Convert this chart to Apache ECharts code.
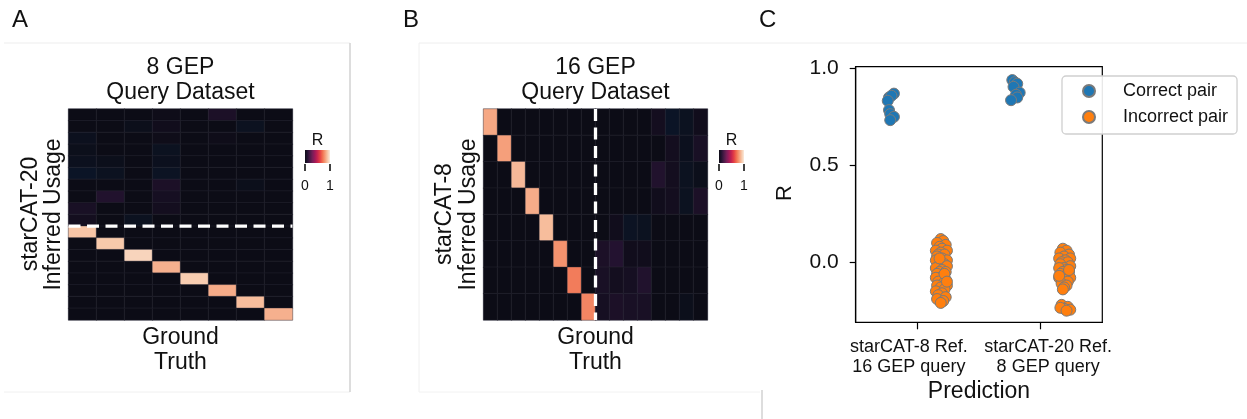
<!DOCTYPE html>
<html lang="en">
<head>
<meta charset="UTF-8">
<title>starCAT query datasets</title>
<script src="https://cdn.jsdelivr.net/npm/echarts@6/dist/echarts.min.js"></script>
<style>
  html, body { margin: 0; padding: 0; background: #fff; }
  #main { width: 1247px; height: 419px; }
</style>
</head>
<body>
<div id="main"></div>
<script>
// ---- panel A: starCAT-20 inferred usage (rows) vs 8 ground truth GEPs (cols)
var gtA = ['G1', 'G2', 'G3', 'G4', 'G5', 'G6', 'G7', 'G8'];
var refA = ['R1', 'R2', 'R3', 'R4', 'R5', 'R6', 'R7', 'R8', 'R9', 'R10',
            'R11', 'R12', 'R13', 'R14', 'R15', 'R16', 'R17', 'R18'];
var heatA = [
    [0, 0, 0, 0.01, 0, 0.06, 0, 0],
    [0, 0, -0.02, 0.02, 0, 0, -0.04, 0],
    [-0.03, 0, 0, 0.01, 0, 0.01, 0, 0],
    [-0.02, 0, 0, -0.04, 0, 0, 0, 0],
    [-0.03, -0.02, 0, -0.03, 0, 0, 0, 0],
    [-0.06, -0.04, 0, -0.05, 0, 0, 0, 0],
    [0, 0, 0, 0.06, 0, 0, -0.02, 0],
    [0, 0.08, 0, 0.04, 0, 0, 0, 0],
    [0.05, 0, 0, 0.03, 0, 0, 0, 0],
    [0.03, 0, -0.04, 0, 0, 0, 0, 0],
    [0.90, 0, 0, 0, 0, 0, 0, 0],
    [0, 0.91, 0, 0, 0, 0, 0, 0],
    [0, 0, 0.94, 0, 0, 0, 0, 0],
    [0, 0, 0, 0.85, 0, 0, 0, 0],
    [0, 0, 0, 0, 0.92, 0, 0, 0],
    [0, 0, 0, 0, 0, 0.84, 0, 0],
    [0, 0, 0, 0, 0, 0, 0.88, 0],
    [0, 0, 0, 0, 0, 0, 0, 0.85]
];
var splitA = 10;   // rows above the dashed line

// ---- panel B: starCAT-8 inferred usage (rows) vs 16 ground truth GEPs (cols)
var gtB = ['G1', 'G2', 'G3', 'G4', 'G5', 'G6', 'G7', 'G8',
           'G9', 'G10', 'G11', 'G12', 'G13', 'G14', 'G15', 'G16'];
var refB = ['R1', 'R2', 'R3', 'R4', 'R5', 'R6', 'R7', 'R8'];
var heatB = [
    [0.83, 0, 0, 0, 0, 0, 0, 0, 0, 0, 0, 0, 0.03, -0.06, -0.04, 0.02],
    [0, 0.81, 0, 0, 0, 0, 0, 0, 0, 0, 0, 0, 0, 0.03, -0.03, 0.05],
    [0, 0, 0.87, 0, 0, 0, 0, 0, 0, 0, 0, 0, 0.08, 0.03, -0.04, -0.02],
    [0, 0, 0, 0.84, 0, 0, 0, 0, 0, 0, 0, 0, 0.02, 0.03, -0.04, 0.06],
    [0, 0, 0, 0, 0.88, 0, 0, 0, 0, 0.02, -0.05, -0.04, 0, 0, 0, 0],
    [0, 0, 0, 0, 0, 0.78, 0, 0, 0.06, 0.09, 0.02, 0.02, 0, 0, 0, 0],
    [0, 0, 0, 0, 0, 0, 0.73, 0, 0.05, 0.03, 0.04, 0.08, 0, 0, 0, 0],
    [0, 0, 0, 0, 0, 0, 0, 0.75, 0.04, 0.06, 0.05, 0.05, 0, 0, -0.02, 0]
];
var splitB = 8;    // columns left of the dashed line

// ---- panel C: R of correct / incorrect pairs (x = jitter offset from category)
var catC = [['starCAT-8 Ref.', '16 GEP query'], ['starCAT-20 Ref.', '8 GEP query']];
var correct8X = [-0.19, -0.23, -0.21, -0.24, -0.23, -0.22, -0.19, -0.22];
var correct8R = [0.871, 0.851, 0.86, 0.834, 0.786, 0.765, 0.751, 0.734];
var correct20X = [-0.23, -0.21, -0.19, -0.22, -0.17, -0.20, -0.19, -0.24];
var correct20R = [0.941, 0.93, 0.922, 0.906, 0.876, 0.865, 0.851, 0.837];
var wrong8X = [0.19, 0.21, 0.16, 0.23, 0.18, 0.20, 0.15, 0.24, 0.19, 0.17,
               0.22, 0.16, 0.20, 0.24, 0.15, 0.19, 0.22, 0.17, 0.24, 0.15,
               0.20, 0.18, 0.23, 0.16, 0.21, 0.19, 0.15, 0.23, 0.17, 0.21,
               0.16, 0.24, 0.19, 0.22, 0.15, 0.20, 0.17, 0.23, 0.16, 0.21,
               0.19, 0.22, 0.18, 0.24];
var wrong8R = [0.12, 0.11, 0.10, 0.09, 0.08, 0.07, 0.06, 0.06, 0.05, 0.04,
               0.04, 0.03, 0.02, 0.01, 0.01, 0.00, -0.01, -0.02, -0.02, -0.03,
               -0.04, -0.05, -0.05, -0.06, -0.07, -0.08, -0.08, -0.09, -0.10, -0.11,
               -0.12, -0.12, -0.13, -0.14, -0.15, -0.16, -0.17, -0.18, -0.19, -0.20,
               -0.21, -0.06, 0.02, -0.10];
var wrong20X = [0.18, 0.21, 0.16, 0.23, 0.19, 0.15, 0.24, 0.20, 0.17, 0.22,
                0.16, 0.24, 0.19, 0.15, 0.21, 0.18, 0.23, 0.16, 0.20, 0.24,
                0.15, 0.19, 0.22, 0.17, 0.21, 0.19, 0.18, 0.23, 0.15, 0.17,
                0.22, 0.19, 0.24, 0.16, 0.21];
var wrong20R = [0.07, 0.06, 0.05, 0.04, 0.03, 0.02, 0.02, 0.01, 0.00, 0.00,
                -0.01, -0.02, -0.03, -0.03, -0.04, -0.05, -0.05, -0.06, -0.07, -0.08,
                -0.08, -0.09, -0.10, -0.11, -0.12, -0.13, -0.14, -0.04, -0.07, -0.22,
                -0.23, -0.24, -0.245, -0.235, -0.25];

// rocket-like colour ramp, stops every 0.1 from -0.1 to 1
var visColors = ['#0b1a30', '#0c0c16', '#261333', '#4d1b48', '#761e57', '#a11959',
                 '#c7254e', '#e54045', '#f16f50', '#f59b76', '#f7c5a6', '#faebdd'];

var FONT = 'Liberation Sans, Arial, sans-serif';
var INK = '#111';

function cells(rows) {
    var out = [];
    rows.forEach(function (r, i) {
        r.forEach(function (v, j) { out.push([j, i, v]); });
    });
    return out;
}
function pts(cat, xs, rs) {
    return rs.map(function (r, i) { return [cat + xs[i], r]; });
}

var barStops = visColors.slice(1).map(function (c, i) { return { offset: i / 10, color: c }; });

function txt(s, x, y, size, opts) {
    opts = opts || {};
    return {
        type: 'text', x: x, y: y, rotation: opts.rot || 0, z: 100,
        style: {
            text: s, font: size + 'px ' + FONT, fill: INK,
            textAlign: opts.align || 'center', textVerticalAlign: 'middle'
        }
    };
}
function ln(x1, y1, x2, y2, color, w) {
    return { type: 'line', z: 0, shape: { x1: x1, y1: y1, x2: x2, y2: y2 },
             style: { stroke: color, lineWidth: w || 1 } };
}
function colorbar(x, y) {
    return [
        { type: 'rect', z: 100, shape: { x: x, y: y, width: 25, height: 13 },
          style: { fill: new echarts.graphic.LinearGradient(0, 0, 1, 0, barStops) } },
        ln(x, y + 14, x, y + 21, '#000', 1.5),
        ln(x + 25, y + 14, x + 25, y + 21, '#000', 1.5),
        txt('R', x + 12.5, y - 9, 16),
        txt('0', x, y + 36, 14),
        txt('1', x + 25, y + 36, 14)
    ];
}

// one bottom axis per category of panel C, so the two long labels never get thinned out
function catAxis(k, pad) {
    return {
        type: 'value', gridIndex: 2, position: 'bottom', min: -0.5, max: 1.5,
        axisLine: { show: true, onZero: false, lineStyle: { color: '#000', width: 1.2 } },
        axisTick: { show: true, customValues: [k], length: 7, lineStyle: { color: '#000', width: 1.2 } },
        axisLabel: {
            customValues: [k], margin: 15, showMinLabel: true, showMaxLabel: true, hideOverlap: false,
            formatter: function () {
                return catC[k].map(function (s) { return '{c|' + s + '}'; }).join('\n');
            },
            rich: { c: { fontSize: 18, lineHeight: 20, color: INK, fontFamily: FONT, padding: pad } }
        },
        splitLine: { show: false }
    };
}

var heatStyle = { borderColor: 'rgba(45,45,58,0.4)', borderWidth: 1 };
var dash = { color: '#fff', width: 3.3, type: [12, 6.5] };

var option = {
    animation: false,
    backgroundColor: '#fff',
    textStyle: { fontFamily: FONT },
    grid: [
        { left: 68.5, top: 109, width: 224, height: 211, show: true,
          borderColor: '#c4c4cc', borderWidth: 1, outerBoundsMode: 'none' },
        { left: 483.5, top: 109, width: 224, height: 211, show: true,
          borderColor: '#c4c4cc', borderWidth: 1, outerBoundsMode: 'none' },
        { left: 855.7, top: 66.7, width: 246.6, height: 255.6, show: true,
          borderColor: '#000', borderWidth: 1.2, outerBoundsMode: 'none' }
    ],
    xAxis: [
        { type: 'category', gridIndex: 0, data: gtA, show: false },
        { type: 'value', gridIndex: 0, min: 0, max: gtA.length, show: false },
        { type: 'category', gridIndex: 1, data: gtB, show: false },
        { type: 'value', gridIndex: 1, min: 0, max: gtB.length, show: false },
        catAxis(0, [0, 17, 0, 0]),
        catAxis(1, [0, 0, 0, 15])
    ],
    yAxis: [
        { type: 'category', gridIndex: 0, data: refA, inverse: true, show: false },
        { type: 'value', gridIndex: 0, min: 0, max: refA.length, inverse: true, show: false },
        { type: 'category', gridIndex: 1, data: refB, inverse: true, show: false },
        { type: 'value', gridIndex: 1, min: 0, max: refB.length, inverse: true, show: false },
        { type: 'value', gridIndex: 2, min: -0.31, max: 1.01,
          axisLine: { show: true, onZero: false, lineStyle: { color: '#000', width: 1.2 } },
          axisTick: { show: true, customValues: [0, 0.5, 1], length: 6, lineStyle: { color: '#000', width: 1.2 } },
          axisLabel: { customValues: [0, 0.5, 1], margin: 17, fontSize: 21, color: INK, fontFamily: FONT,
                       showMinLabel: true, showMaxLabel: true, hideOverlap: false,
                       formatter: function (v) { return v.toFixed(1); } },
          splitLine: { show: false } }
    ],
    visualMap: {
        type: 'continuous', show: false, min: -0.1, max: 1, seriesIndex: [0, 1],
        inRange: { color: visColors }
    },
    legend: {
        orient: 'vertical', left: 1062, top: 76, padding: [5, 9, 7, 20], itemGap: 6,
        itemWidth: 12, itemHeight: 12, icon: 'circle',
        backgroundColor: 'rgba(255,255,255,0.9)', borderColor: '#cfcfcf', borderWidth: 1.3, borderRadius: 4,
        textStyle: { fontSize: 18, lineHeight: 20, color: INK, fontFamily: FONT, padding: [0, 0, 0, 23] },
        data: ['Correct pair', 'Incorrect pair']
    },
    series: [
        { type: 'heatmap', xAxisIndex: 0, yAxisIndex: 0, data: cells(heatA),
          itemStyle: heatStyle, emphasis: { disabled: true } },
        { type: 'heatmap', xAxisIndex: 2, yAxisIndex: 2, data: cells(heatB),
          itemStyle: heatStyle, emphasis: { disabled: true } },
        { type: 'line', xAxisIndex: 1, yAxisIndex: 1, symbol: 'none', z: 10,
          data: [[0, splitA], [gtA.length, splitA]], lineStyle: dash },
        { type: 'line', xAxisIndex: 3, yAxisIndex: 3, symbol: 'none', z: 10,
          data: [[splitB, 0], [splitB, refB.length]], lineStyle: dash },
        { name: 'Correct pair', type: 'scatter', xAxisIndex: 4, yAxisIndex: 4, symbolSize: 11,
          itemStyle: { color: '#1f77b4', borderColor: '#7a7a7a', borderWidth: 1, opacity: 1 },
          data: pts(0, correct8X, correct8R).concat(pts(1, correct20X, correct20R)) },
        { name: 'Incorrect pair', type: 'scatter', xAxisIndex: 4, yAxisIndex: 4, symbolSize: 11,
          itemStyle: { color: '#ff7f0e', borderColor: '#7a7a7a', borderWidth: 1, opacity: 1 },
          data: pts(0, wrong8X, wrong8R).concat(pts(1, wrong20X, wrong20R)) }
    ],
    graphic: [
        // panel frames left over from the figure layout
        ln(4, 43, 350, 43, '#ededed'),
        ln(4, 392, 350, 392, '#f0f0f0'),
        ln(350, 43, 350, 392, '#d2d2d2', 1.5),
        ln(419, 43, 1247, 43, '#eeeeee'),
        ln(419, 43, 419, 392, '#f0f0f0'),
        ln(419, 392, 760, 392, '#f2f2f2'),
        ln(762, 390, 762, 419, '#d2d2d2', 1.5),

        // panel letters
        txt('A', 12, 20.5, 24, { align: 'left' }),
        txt('B', 403, 20.5, 24, { align: 'left' }),
        txt('C', 759, 20.5, 24, { align: 'left' }),

        // panel A text
        txt('8 GEP', 180.5, 68, 23),
        txt('Query Dataset', 180.5, 92.5, 23),
        txt('Ground', 180.5, 338, 23),
        txt('Truth', 180.5, 362.5, 23),
        txt('starCAT-20', 30.5, 214, 23, { rot: Math.PI / 2 }),
        txt('Inferred Usage', 54, 214.5, 23, { rot: Math.PI / 2 }),

        // panel B text
        txt('16 GEP', 595.5, 68, 23),
        txt('Query Dataset', 595.5, 92.5, 23),
        txt('Ground', 595.5, 338, 23),
        txt('Truth', 595.5, 362.5, 23),
        txt('starCAT-8', 445, 214, 23, { rot: Math.PI / 2 }),
        txt('Inferred Usage', 468.5, 214.5, 23, { rot: Math.PI / 2 }),

        // panel C axis titles
        txt('R', 785, 193, 22, { rot: Math.PI / 2 }),
        txt('Prediction', 979, 392, 23)
    ].concat(colorbar(305, 150), colorbar(719, 150))
};

var chart = echarts.init(document.getElementById('main'), null, { renderer: 'canvas' });
chart.setOption(option);
</script>
</body>
</html>
